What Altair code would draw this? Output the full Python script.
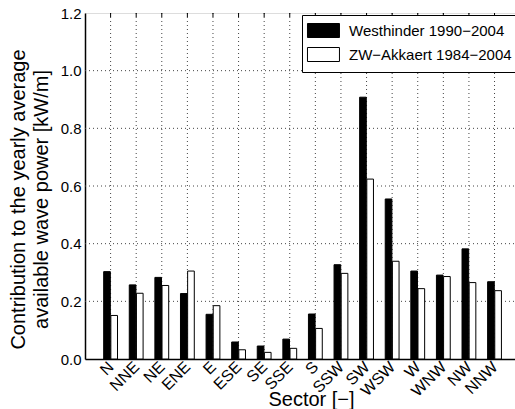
import altair as alt
import pandas as pd

sectors = ["N", "NNE", "NE", "ENE", "E", "ESE", "SE", "SSE",
           "S", "SSW", "SW", "WSW", "W", "WNW", "NW", "NNW"]
westhinder = [0.303, 0.257, 0.283, 0.227, 0.155, 0.059, 0.045, 0.069,
              0.156, 0.327, 0.908, 0.555, 0.305, 0.291, 0.382, 0.268]
zw_akkaert = [0.151, 0.228, 0.255, 0.305, 0.185, 0.032, 0.023, 0.037,
              0.106, 0.297, 0.624, 0.339, 0.244, 0.286, 0.265, 0.237]
series_names = ["Westhinder 1990\u22122004", "ZW\u2212Akkaert 1984\u22122004"]
y_ticks = [0.0, 0.2, 0.4, 0.6, 0.8, 1.0, 1.2]

rows = []
for i, s in enumerate(sectors):
    rows.append({"idx": i + 1, "sector": s, "series": series_names[0], "value": westhinder[i]})
    rows.append({"idx": i + 1, "sector": s, "series": series_names[1], "value": zw_akkaert[i]})
df = pd.DataFrame(rows)
xgrid = pd.DataFrame({"idx": list(range(1, len(sectors) + 1))})
ygrid = pd.DataFrame({"v": y_ticks[1:-1]})

label_expr = "[" + ",".join("'%s'" % s for s in sectors) + "][datum.value - 1]"
FONT = "Liberation Sans"
xscale = alt.Scale(domain=[0, 16.8], nice=False, zero=False)
yscale = alt.Scale(domain=[0, 1.2], nice=False)
GRID_COLOR = "#444"

xaxis = alt.Axis(values=list(range(1, 17)), labelExpr=label_expr,
                 labelAngle=-45, labelAlign="right", labelBaseline="middle",
                 labelPadding=5, labelFontSize=16, labelColor="black",
                 labelOverlap=False, labelBound=False,
                 tickSize=0, domainColor="black", domainWidth=1.5, grid=False,
                 title="Sector [\u2212]", titleFontSize=20, titleFontWeight="normal",
                 titleX=226, titleY=46, titleBaseline="alphabetic",
                 titleAlign="center", titleColor="black")
yaxis = alt.Axis(values=y_ticks, format=".1f", labelFontSize=15,
                 labelColor="black", labelPadding=4, tickSize=0,
                 domainColor="black", domainWidth=1.5, grid=False,
                 title=["Contribution to the yearly average",
                        "available wave power [kW/m]"],
                 titleFontSize=20, titleFontWeight="normal", titleColor="black",
                 titleAngle=-90, titleX=-77, titleY=186,
                 titleAlign="center", titleBaseline="top", titleLineHeight=23)

vgrid = alt.Chart(xgrid).mark_rule(color=GRID_COLOR, strokeDash=[1, 3], strokeWidth=1).encode(
    x=alt.X("idx:Q", scale=xscale, axis=xaxis),
    y=alt.value(0), y2=alt.value(346),
)
hgrid = alt.Chart(ygrid).mark_rule(color=GRID_COLOR, strokeDash=[1, 3], strokeWidth=1).encode(
    y=alt.Y("v:Q", scale=yscale, axis=yaxis),
    x=alt.value(0), x2=alt.value(430),
)
topticks = alt.Chart(xgrid).mark_rule(color="black", strokeWidth=1).encode(
    x=alt.X("idx:Q", scale=xscale, axis=xaxis),
    y=alt.value(0), y2=alt.value(4),
)

bars = alt.Chart(df).transform_calculate(
    x0="datum.idx + (datum.series == '%s' ? -0.27 : 0.01)" % series_names[0]
).transform_calculate(
    x1="datum.x0 + 0.26"
).mark_bar(stroke="black", strokeWidth=1).encode(
    x=alt.X("x0:Q", scale=xscale, axis=xaxis),
    x2="x1:Q",
    y=alt.Y("value:Q", scale=yscale, axis=yaxis),
    y2=alt.datum(0),
    color=alt.Color("series:N",
                    scale=alt.Scale(domain=series_names, range=["black", "white"]),
                    legend=alt.Legend(title=None, orient="none", legendX=217, legendY=2,
                                      symbolType="M-2.29,-1h4.57v2h-4.57z",
                                      symbolSize=196, symbolOffset=6,
                                      symbolStrokeColor="black", symbolStrokeWidth=1,
                                      labelOffset=18, labelFontSize=15, labelColor="black",
                                      labelLimit=300,
                                      rowPadding=5, padding=8,
                                      strokeColor="black", fillColor="white",
                                      cornerRadius=0)),
)

chart = alt.layer(vgrid, hgrid, topticks, bars).properties(
    width=430, height=346,
    padding={"left": 85, "top": 13, "right": 0, "bottom": 50},
    autosize=alt.AutoSizeParams(type="none"),
).configure_view(
    stroke="black", strokeWidth=1.5
).configure(font=FONT, background="white")

chart.save("out.html", embed_options={"renderer": "svg", "actions": False})
